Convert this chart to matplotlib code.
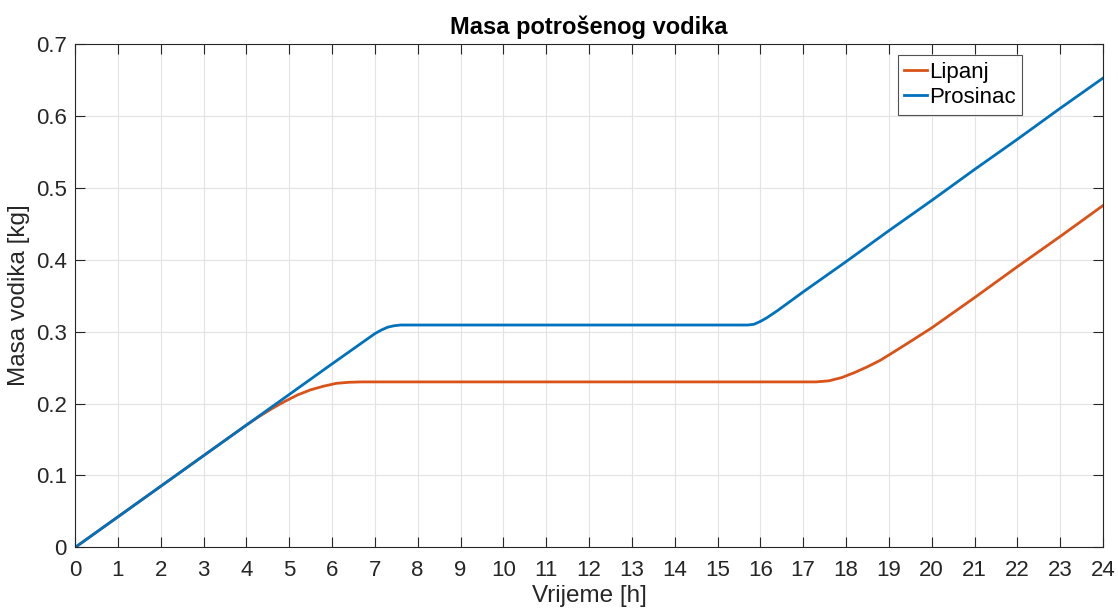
import numpy as np
import matplotlib.pyplot as plt
from matplotlib.ticker import MultipleLocator

# hydrogen mass consumed over the day [kg]
t_lipanj = [0, 1, 2, 3, 4, 4.3, 4.6, 4.9, 5.2, 5.5, 5.8, 6.1, 6.4, 6.7, 8, 10, 12,
            14, 16, 17.3, 17.6, 17.9, 18.2, 18.5, 18.8, 19.1, 19.5, 20, 21, 22, 23, 24]
m_lipanj = [0, 0.0425, 0.085, 0.1275, 0.170, 0.182, 0.193, 0.203, 0.212, 0.219,
            0.224, 0.228, 0.2295, 0.230, 0.230, 0.230, 0.230,
            0.230, 0.230, 0.230, 0.2315, 0.236, 0.243, 0.251, 0.260, 0.271,
            0.286, 0.305, 0.347, 0.390, 0.432, 0.475]

t_prosinac = [0, 1, 2, 3, 4, 5, 6, 7, 7.15, 7.3, 7.45, 7.6, 8, 10, 12, 14, 15.7,
              15.85, 16.0, 16.15, 16.4, 17, 18, 19, 20, 21, 22, 23, 24]
m_prosinac = [0, 0.0425, 0.085, 0.1275, 0.170, 0.2125, 0.255, 0.297, 0.302, 0.306,
              0.308, 0.309, 0.309, 0.309, 0.309, 0.309, 0.309,
              0.310, 0.314, 0.319, 0.329, 0.355, 0.397, 0.440, 0.482, 0.525, 0.567,
              0.610, 0.652]

plt.rcParams['font.family'] = ['Liberation Sans', 'DejaVu Sans']

fig = plt.figure(figsize=(11.18, 6.12), dpi=100)
ax = fig.add_axes([0.0671, 0.1054, 0.9195, 0.8235])

ax.plot(t_lipanj, m_lipanj, color='#D95319', linewidth=2, label='Lipanj')
ax.plot(t_prosinac, m_prosinac, color='#0072BD', linewidth=2, label='Prosinac')

ax.set_xlim(0, 24)
ax.set_ylim(0, 0.7)
ax.xaxis.set_major_locator(MultipleLocator(1))
ax.set_yticks(np.arange(0, 0.75, 0.1))
ax.set_yticklabels(['0'] + ['%.1f' % v for v in np.arange(0.1, 0.75, 0.1)])

ax.grid(True, color='#e3e3e3', linewidth=0.8)
ax.set_axisbelow(True)
for side in ax.spines.values():
    side.set_color('#262626')
    side.set_linewidth(0.8)
ax.tick_params(direction='in', length=7, width=0.8, top=True, right=True,
               colors='#262626', labelsize=16)
ax.tick_params(axis='x', pad=9)
ax.tick_params(axis='y', pad=6)

ax.set_xlabel('Vrijeme [h]', fontsize=17.5, color='#262626', labelpad=3)
ax.set_ylabel('Masa vodika [kg]', fontsize=17.5, color='#262626', labelpad=4)
ax.set_title('Masa potrošenog vodika', fontsize=17, fontweight='bold', pad=7)

leg = ax.legend(loc='upper right', bbox_to_anchor=(0.9215, 0.977), fontsize=16,
                frameon=True, fancybox=False, handlelength=1.0, handletextpad=0.1,
                borderpad=0.3, labelspacing=0.2, borderaxespad=0)
leg.get_frame().set_edgecolor('#262626')
leg.get_frame().set_linewidth(0.8)

fig.savefig('out.png', dpi=100)
